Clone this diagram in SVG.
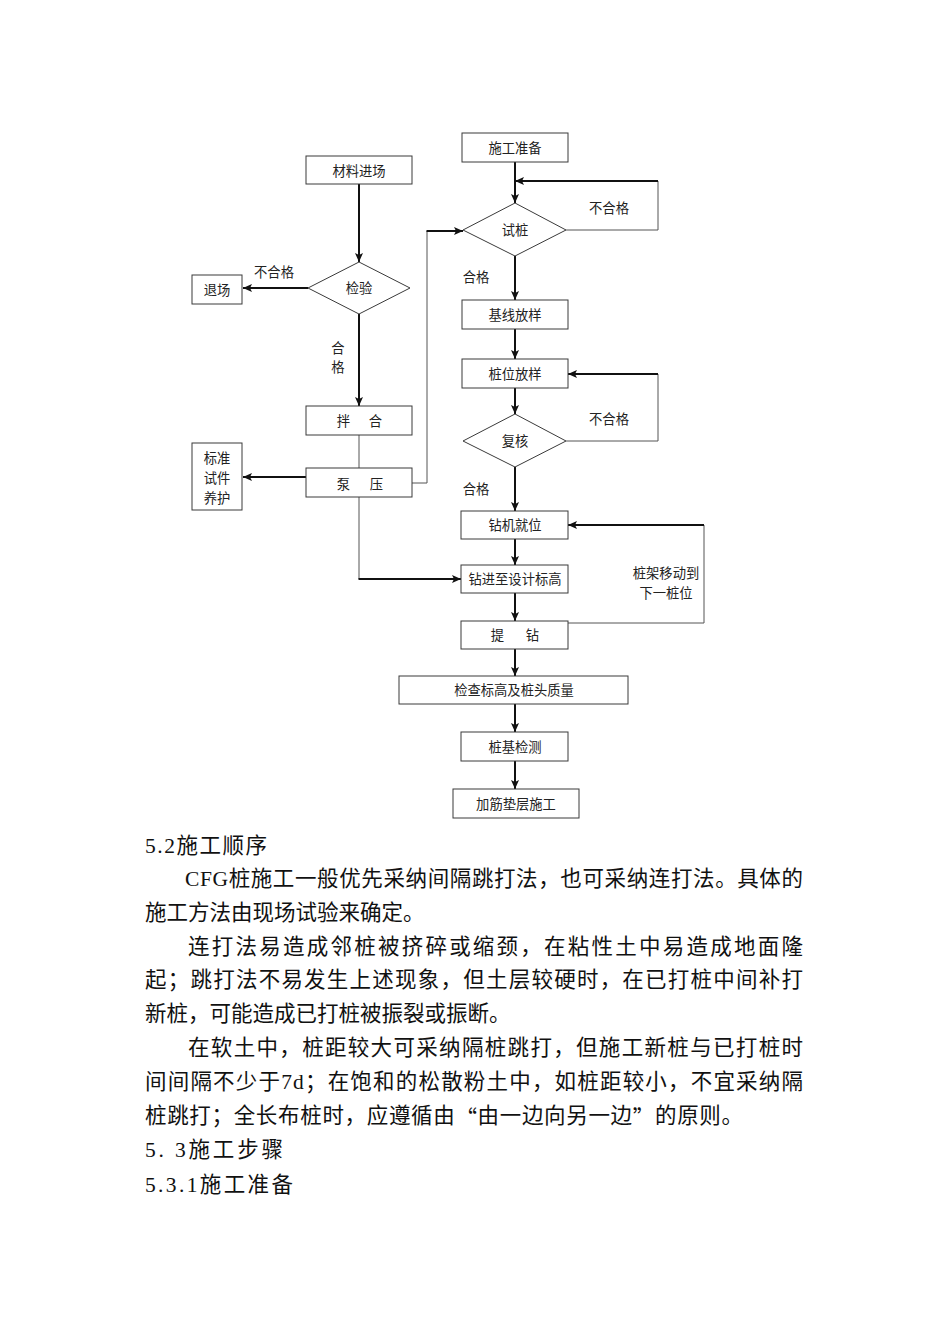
<svg xmlns="http://www.w3.org/2000/svg" width="950" height="1344" viewBox="0 0 950 1344">
<style>
.box{fill:#fff;stroke:#3a3a3a;stroke-width:1}
.dia{fill:#fff;stroke:#3a3a3a;stroke-width:1}
.t{font-family:"Liberation Serif","Noto Sans CJK SC",serif;font-size:13.3px;fill:#222;text-anchor:middle;dominant-baseline:central}
.tl{font-family:"Liberation Serif","Noto Sans CJK SC",serif;font-size:13.3px;fill:#222;text-anchor:middle;dominant-baseline:central}
.a{fill:none;stroke:#111;stroke-width:2;marker-end:url(#ah)}
.th{fill:none;stroke:#555;stroke-width:1}
.body{font-family:"Liberation Serif","Noto Sans CJK SC",serif;font-size:21.5px;fill:#111;dominant-baseline:central}
.cjk{font-family:"Noto Sans CJK SC",sans-serif}
</style>
<defs>
<marker id="ah" markerUnits="userSpaceOnUse" markerWidth="10" markerHeight="8" refX="9" refY="4" orient="auto">
<path d="M0,0 L9,4 L0,8 L2,4 z" fill="#111"/>
</marker>
</defs>
<rect width="950" height="1344" fill="#fff"/>

<g id="connectors">
<line class="a" x1="359" y1="184" x2="359" y2="262"/>
<line class="a" x1="359" y1="314" x2="359" y2="406"/>
<line class="a" x1="308" y1="288" x2="243" y2="288"/>
<line class="th" x1="359" y1="435" x2="359" y2="468"/>
<line class="a" x1="306" y1="477" x2="243" y2="477"/>
<polyline class="th" points="412,483 427,483 427,231"/>
<line class="a" x1="426.5" y1="231" x2="463" y2="231"/>
<polyline class="th" points="359,497 359,579"/>
<line class="a" x1="358.5" y1="579" x2="461" y2="579"/>
<line class="a" x1="515" y1="162" x2="515" y2="203"/>
<polyline class="th" points="566,230 658,230 658,181"/>
<line class="a" x1="658" y1="181" x2="515" y2="181"/>
<line class="a" x1="515" y1="256" x2="515" y2="300"/>
<line class="a" x1="515" y1="329" x2="515" y2="359"/>
<line class="a" x1="515" y1="388" x2="515" y2="414"/>
<polyline class="th" points="566,441 658,441 658,374"/>
<line class="a" x1="658" y1="374" x2="568" y2="374"/>
<line class="a" x1="515" y1="467" x2="515" y2="511"/>
<line class="a" x1="515" y1="539" x2="515" y2="565"/>
<line class="a" x1="515" y1="593" x2="515" y2="621"/>
<polyline class="th" points="568,623 704,623 704,525"/>
<line class="a" x1="704" y1="525" x2="568" y2="525"/>
<line class="a" x1="515" y1="649" x2="515" y2="676"/>
<line class="a" x1="515" y1="704" x2="515" y2="732"/>
<line class="a" x1="515" y1="761" x2="515" y2="789"/>
</g>

<g id="n-cailiao"><rect class="box" x="306" y="156" width="106" height="28"/><text class="t" x="359" y="171">材料进场</text></g>
<g id="n-jianyan"><polygon class="dia" points="359,262 410,288 359,314 308,288"/><text class="t" x="359" y="288">检验</text></g>
<g id="n-tuichang"><rect class="box" x="192" y="275" width="50" height="29"/><text class="t" x="217" y="290">退场</text></g>
<g id="l-buhege1"><text class="tl" x="274" y="272">不合格</text></g>
<g id="l-hege1"><text class="tl" x="338" y="348">合</text><text class="tl" x="338" y="367">格</text></g>
<g id="n-banhe"><rect class="box" x="306" y="406" width="106" height="29"/><text class="t" y="421"><tspan x="343.5">拌</tspan><tspan x="375.5">合</tspan></text></g>
<g id="n-bengya"><rect class="box" x="306" y="468" width="106" height="29"/><text class="t" y="484"><tspan x="343.5">泵</tspan><tspan x="376.5">压</tspan></text></g>
<g id="n-biaozhun"><rect class="box" x="192" y="443" width="50" height="67"/><text class="t" x="217" y="458">标准</text><text class="t" x="217" y="478">试件</text><text class="t" x="217" y="498">养护</text></g>

<g id="n-shigong"><rect class="box" x="462" y="133" width="106" height="29"/><text class="t" x="515" y="148">施工准备</text></g>
<g id="n-shizhuang"><polygon class="dia" points="515,203 566,230 515,256 463,230"/><text class="t" x="515" y="230">试桩</text></g>
<g id="l-buhege2"><text class="tl" x="609" y="208">不合格</text></g>
<g id="l-hege2"><text class="tl" x="476" y="277">合格</text></g>
<g id="n-jixian"><rect class="box" x="462" y="300" width="106" height="29"/><text class="t" x="515" y="315">基线放样</text></g>
<g id="n-zhuangwei"><rect class="box" x="462" y="359" width="106" height="29"/><text class="t" x="515" y="374">桩位放样</text></g>
<g id="n-fuhe"><polygon class="dia" points="515,414 566,441 515,467 463,441"/><text class="t" x="515" y="441">复核</text></g>
<g id="l-buhege3"><text class="tl" x="609" y="419">不合格</text></g>
<g id="l-hege3"><text class="tl" x="476" y="489">合格</text></g>
<g id="n-zuanji"><rect class="box" x="461" y="511" width="107" height="28"/><text class="t" x="515" y="525">钻机就位</text></g>
<g id="n-zuanjin"><rect class="box" x="461" y="565" width="107" height="28"/><text class="t" x="515" y="579">钻进至设计标高</text></g>
<g id="n-tizuan"><rect class="box" x="461" y="621" width="107" height="28"/><text class="t" y="635"><tspan x="497.5">提</tspan><tspan x="532.5">钻</tspan></text></g>
<g id="l-yidong"><text class="tl" x="666" y="573">桩架移动到</text><text class="tl" x="666" y="593">下一桩位</text></g>
<g id="n-jiancha"><rect class="box" x="399" y="676" width="229" height="28"/><text class="t" x="514" y="690">检查标高及桩头质量</text></g>
<g id="n-zhuangji"><rect class="box" x="461" y="732" width="107" height="29"/><text class="t" x="515" y="747">桩基检测</text></g>
<g id="n-jiajin"><rect class="box" x="453" y="789" width="126" height="29"/><text class="t" x="516" y="804">加筋垫层施工</text></g>

<g id="body-text">
<text class="body" x="145" y="846" textLength="122" lengthAdjust="spacing">5.2施工顺序</text>
<text class="body" x="185" y="879" textLength="618" lengthAdjust="spacing">CFG桩施工一般优先采纳间隔跳打法，也可采纳连打法。具体的</text>
<text class="body" x="145" y="913">施工方法由现场试验来确定。</text>
<text class="body" x="188" y="946.5" textLength="615" lengthAdjust="spacing">连打法易造成邻桩被挤碎或缩颈，在粘性土中易造成地面隆</text>
<text class="body" x="145" y="980" textLength="658" lengthAdjust="spacing">起；跳打法不易发生上述现象，但土层较硬时，在已打桩中间补打</text>
<text class="body" x="145" y="1013.5">新桩，可能造成已打桩被振裂或振断。</text>
<text class="body" x="188" y="1047.5" textLength="615" lengthAdjust="spacing">在软土中，桩距较大可采纳隔桩跳打，但施工新桩与已打桩时</text>
<text class="body" x="145" y="1081.5" textLength="658" lengthAdjust="spacing">间间隔不少于7d；在饱和的松散粉土中，如桩距较小，不宜采纳隔</text>
<text class="body" x="145" y="1115.5" textLength="598" lengthAdjust="spacing">桩跳打；全长布桩时，应遵循由<tspan class="cjk">“</tspan>由一边向另一边<tspan class="cjk">”</tspan>的原则。</text>
<text class="body" x="145" y="1150" textLength="138" lengthAdjust="spacing">5. 3施工步骤</text>
<text class="body" x="145" y="1184.5" textLength="148" lengthAdjust="spacing">5.3.1施工准备</text>
</g>
</svg>
